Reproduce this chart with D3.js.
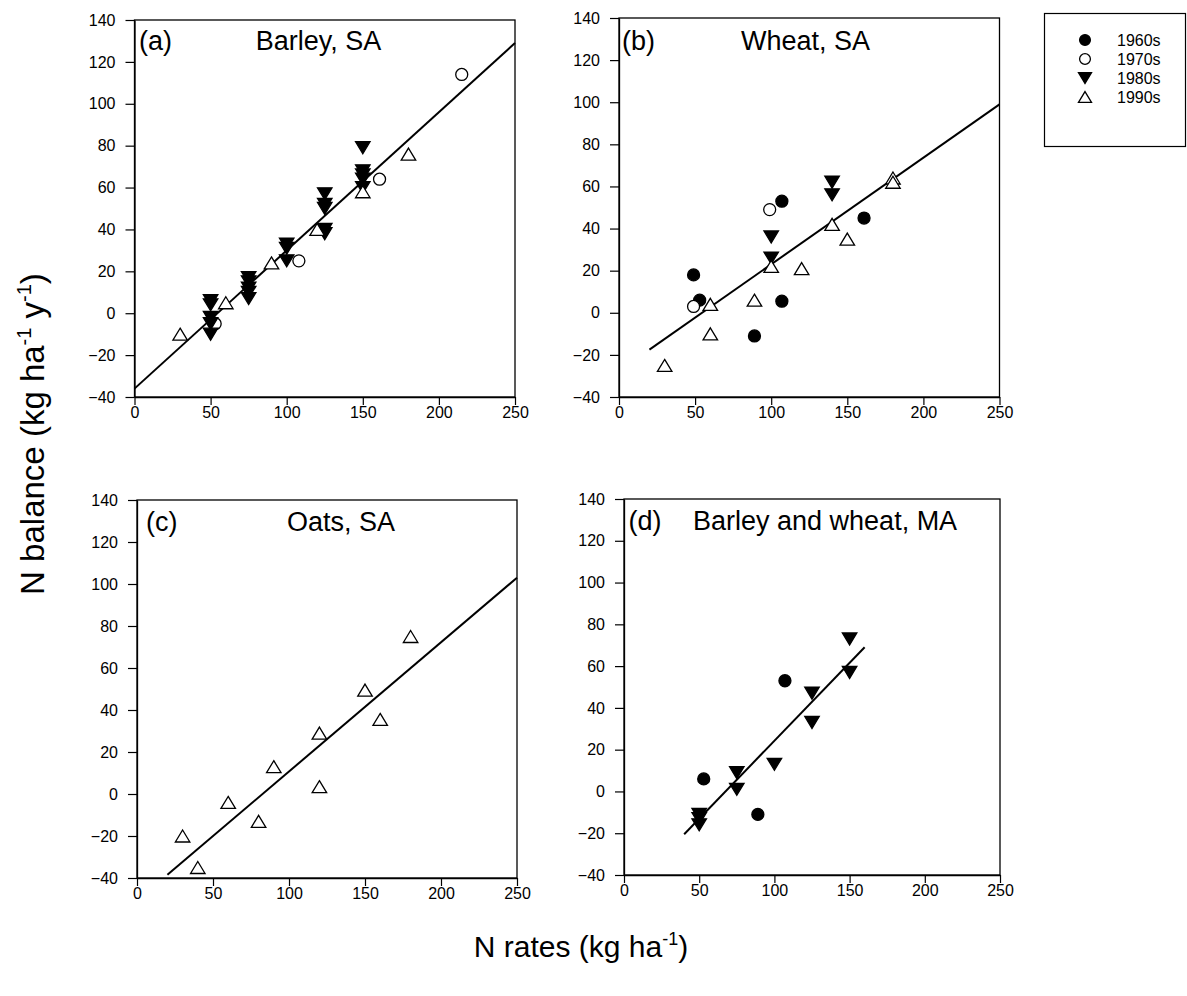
<!DOCTYPE html>
<html>
<head>
<meta charset="utf-8">
<script src="https://cdn.jsdelivr.net/npm/d3@7"></script>
<style>
  body { margin: 0; background: #fff; }
  svg { font-family: "Liberation Sans", Arial, sans-serif; }
</style>
</head>
<body>
<svg id="chart" width="1187" height="996"></svg>
<script>
// decades used in the legend
var decades = ["1960s", "1970s", "1980s", "1990s"];

var xTicks = [0, 50, 100, 150, 200, 250];
var yTicks = [-40, -20, 0, 20, 40, 60, 80, 100, 120, 140];

var panelLabels = ["(a)", "(b)", "(c)", "(d)"];
var panelTitles = ["Barley, SA", "Wheat, SA", "Oats, SA", "Barley and wheat, MA"];

// (a) barley, SA  -- [N rate, N balance]
var barley1970 = [[53, -5], [108, 25], [161, 64], [215, 114]];
var barley1980 = [[50, 6], [50, 4], [50, -2], [50, -5], [50, -10],
                  [75, 17], [75, 15], [75, 12], [75, 10], [75, 7],
                  [100, 33], [100, 31], [100, 25],
                  [125, 57], [125, 52], [125, 50], [125, 40], [125, 38],
                  [150, 79], [150, 68], [150, 66], [150, 64], [150, 60]];
var barley1990 = [[30, -10], [60, 5], [90, 24], [120, 40], [150, 58], [180, 76]];
var barleyFit = [[0, -36], [250, 129]];

// (b) wheat, SA
var wheat1960 = [[49, 18], [53, 6], [89, -11], [107, 53], [107, 5.5], [161, 45]];
var wheat1970 = [[49, 3], [99, 49]];
var wheat1980 = [[100, 36], [100, 26], [140, 62], [140, 56]];
var wheat1990 = [[30, -25], [60, 4], [60, -10], [89, 6], [100, 22], [120, 21],
                 [140, 42], [150, 35], [180, 64], [180, 62]];
var wheatFit = [[20, -17.5], [250, 99]];

// (c) oats, SA
var oats1990 = [[30, -20], [40, -35], [60, -4], [80, -13], [90, 13], [120, 29],
                [120, 3.5], [150, 49.5], [160, 35.5], [180, 75]];
var oatsFit = [[20, -38.5], [250, 103]];

// (d) barley and wheat, MA
var ma1960 = [[53, 6], [89, -11], [107, 53]];
var ma1980 = [[50, -11], [50, -13], [50, -16], [75, 9], [75, 1], [100, 13],
              [125, 47], [125, 33], [150, 73], [150, 57]];
var maFit = [[40, -20.5], [160, 69]];

// layout: plot box [left, top, right, bottom], label/title positions
var panels = [
  { box: [134.5, 20, 515, 397], labelX: 139, titleX: 318.5, anchor: "middle", textY: 49.5,
    series: [[], barley1970, barley1980, barley1990], fit: barleyFit },
  { box: [619, 18, 999.5, 397], labelX: 622, titleX: 805.5, anchor: "middle", textY: 49.5,
    series: [wheat1960, wheat1970, wheat1980, wheat1990], fit: wheatFit },
  { box: [137, 500, 517, 878], labelX: 146, titleX: 341, anchor: "middle", textY: 530.5,
    series: [[], [], [], oats1990], fit: oatsFit },
  { box: [624, 499, 1000, 875], labelX: 628.5, titleX: 693, anchor: "start", textY: 529.5,
    series: [ma1960, [], ma1980, []], fit: maFit }
];

var svg = d3.select("#chart");

// marker paths, one per decade
function marker(k, big) {
  var s = big ? 1 : 0.9;
  var r = 6 * s, w = 14.5 * s, h = 12 * s;
  if (k < 2) {
    return "M" + (-r) + ",0A" + r + "," + r + " 0 1,0 " + r + ",0A" + r + "," + r + " 0 1,0 " + (-r) + ",0Z";
  }
  if (k == 2) {
    return "M" + (-w / 2) + "," + (-h / 2) + "L" + (w / 2) + "," + (-h / 2) + "L0," + (h / 2) + "Z";
  }
  return "M0," + (-h / 2) + "L" + (w / 2) + "," + (h / 2) + "L" + (-w / 2) + "," + (h / 2) + "Z";
}
var filled = [true, false, true, false];

function styleAxis(a) {
  a.select(".domain").attr("stroke-width", 1.3);
  a.selectAll("line").attr("stroke-width", 1.2);
  a.selectAll("text").attr("font-size", 16).attr("font-family", null);
}

panels.forEach(function(p, i) {
  var x = d3.scaleLinear().domain([0, 250]).range([p.box[0], p.box[2]]);
  var y = d3.scaleLinear().domain([-40, 140]).range([p.box[3], p.box[1]]);

  var g = svg.append("g");

  g.append("rect")
      .attr("x", p.box[0])
      .attr("y", p.box[1])
      .attr("width", p.box[2] - p.box[0])
      .attr("height", p.box[3] - p.box[1])
      .attr("fill", "none")
      .attr("stroke", "#000")
      .attr("stroke-width", 1.3);

  g.append("g")
      .attr("transform", "translate(0," + p.box[3] + ")")
      .call(d3.axisBottom(x).tickValues(xTicks).tickSize(8).tickSizeOuter(0).tickPadding(2))
      .call(styleAxis);

  g.append("g")
      .attr("transform", "translate(" + p.box[0] + ",0)")
      .call(d3.axisLeft(y).tickValues(yTicks).tickSize(9).tickSizeOuter(0).tickPadding(10))
      .call(styleAxis);

  // regression line
  g.append("path")
      .datum(p.fit)
      .attr("fill", "none")
      .attr("stroke", "#000")
      .attr("stroke-width", 2)
      .attr("d", d3.line().x(function(d) { return x(d[0]); }).y(function(d) { return y(d[1]); }));

  p.series.forEach(function(pts, k) {
    g.append("g").selectAll("path")
      .data(pts)
      .enter().append("path")
        .attr("transform", function(d) { return "translate(" + x(d[0]) + "," + y(d[1]) + ")"; })
        .attr("d", marker(k, true))
        .attr("fill", filled[k] ? "#000" : "#fff")
        .attr("stroke", "#000")
        .attr("stroke-width", 1.3);
  });

  g.append("text")
      .attr("x", p.labelX)
      .attr("y", p.textY)
      .attr("font-size", 27)
      .text(panelLabels[i]);

  g.append("text")
      .attr("x", p.titleX)
      .attr("y", p.textY)
      .attr("font-size", 27)
      .attr("text-anchor", p.anchor)
      .text(panelTitles[i]);
});

// legend
var legend = svg.append("g");
legend.append("rect")
    .attr("x", 1044.5)
    .attr("y", 13.5)
    .attr("width", 141)
    .attr("height", 133)
    .attr("fill", "none")
    .attr("stroke", "#000")
    .attr("stroke-width", 1.2);

var items = legend.selectAll("g.item")
    .data(decades)
    .enter().append("g")
      .attr("class", "item")
      .attr("transform", function(d, i) { return "translate(1085," + (40 + i * 19) + ")"; });

items.append("path")
    .attr("d", function(d, i) { return marker(i, false); })
    .attr("fill", function(d, i) { return filled[i] ? "#000" : "#fff"; })
    .attr("stroke", "#000")
    .attr("stroke-width", 1.3);

items.append("text")
    .attr("x", 32)
    .attr("dy", "0.35em")
    .attr("font-size", 16)
    .text(function(d) { return d; });

// axis titles
var yTitle = svg.append("text")
    .attr("transform", "translate(44,434) rotate(-90)")
    .attr("text-anchor", "middle")
    .attr("font-size", 33);
yTitle.append("tspan").text("N balance (kg ha");
yTitle.append("tspan").attr("font-size", 20).attr("dy", -13).text("-1");
yTitle.append("tspan").attr("dy", 13).text(" y");
yTitle.append("tspan").attr("font-size", 20).attr("dy", -13).text("-1");
yTitle.append("tspan").attr("dy", 13).text(")");

var xTitle = svg.append("text")
    .attr("x", 581)
    .attr("y", 957)
    .attr("text-anchor", "middle")
    .attr("font-size", 30);
xTitle.append("tspan").text("N rates (kg ha");
xTitle.append("tspan").attr("font-size", 18).attr("dy", -12).text("-1");
xTitle.append("tspan").attr("dy", 12).text(")");
</script>
</body>
</html>
